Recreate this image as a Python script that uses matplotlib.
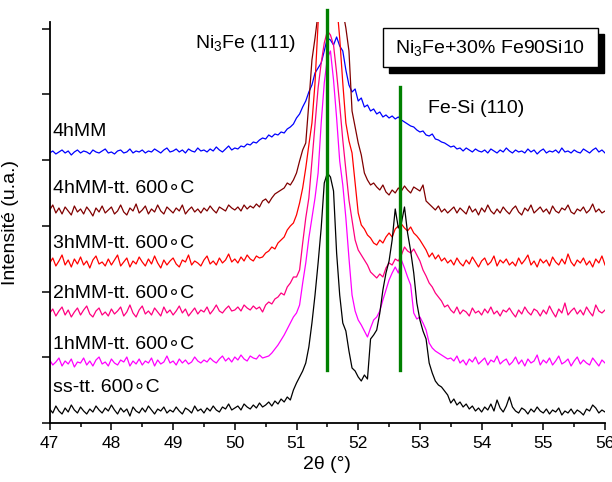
import matplotlib
matplotlib.use("Agg")
import matplotlib.pyplot as plt
import numpy as np
from matplotlib.patches import Rectangle
from matplotlib.ticker import MultipleLocator

# scan grid, 47-56 deg in 0.05 deg steps
two_theta = np.linspace(47, 56, 181)

# intensities (a.u., curves already stacked)
i_4hmm = [
    270, 272, 269, 271, 273, 270, 272, 268, 271, 273,
    270, 272, 271, 269, 273, 271, 270, 272, 274, 270,
    271, 269, 272, 273, 270, 271, 274, 270, 272, 271,
    273, 270, 272, 271, 274, 272, 270, 273, 275, 271,
    272, 274, 271, 273, 270, 274, 272, 271, 275, 272,
    273, 271, 274, 272, 276, 273, 271, 274, 277, 273,
    275, 274, 277, 276, 279, 278, 281, 280, 283, 285,
    284, 288, 286, 289, 288, 291, 290, 294, 296, 299,
    305, 309, 316, 322, 331, 338, 350, 355, 360, 372,
    385, 383, 378, 386, 377, 372, 353, 338, 331, 334,
    322, 325, 316, 318, 312, 314, 309, 311, 306, 308,
    305, 307, 304, 306, 303, 301, 299, 297, 296, 293,
    291, 292, 288, 287, 289, 284, 283, 281, 280, 278,
    276, 277, 274, 275, 272, 275, 273, 271, 274, 272,
    271, 273, 270, 274, 272, 270, 273, 271, 275, 272,
    270, 273, 271, 272, 270, 274, 271, 273, 269, 272,
    274, 270, 272, 271, 273, 270, 275, 271, 272, 270,
    273, 271, 270, 274, 272, 270, 273, 275, 271, 273,
    270,
]
i_4hmm_tt = [
    213, 218, 210, 215, 209, 216, 212, 208, 217, 211,
    214, 209, 216, 212, 207, 215, 211, 217, 210, 213,
    216, 209, 212, 218, 211, 208, 215, 212, 219, 210,
    213, 217, 209, 214, 211, 218, 212, 209, 216, 213,
    210, 215, 212, 218, 209, 213, 216, 211, 214, 210,
    215, 212, 217, 213, 210, 216, 214, 212, 218, 215,
    213, 216, 212, 218, 214, 217, 215, 219, 216, 222,
    224, 220, 225, 229, 231, 233, 235, 240, 238, 243,
    250, 262, 273, 280, 320, 363, 385, 410, 440, 455,
    462, 465, 458, 448, 432, 412, 395, 372, 312, 296,
    280, 268, 250, 243, 238, 240, 236, 233, 238, 231,
    228, 233, 230, 235, 232, 237, 233, 230, 236, 234,
    232, 238, 222, 219, 216, 213, 217, 211, 214, 210,
    213, 216, 210, 215, 212, 209, 217, 211, 214, 208,
    215, 211, 218, 212, 209, 214, 210, 216, 212, 209,
    214, 217, 211, 208, 215, 212, 218, 210, 213, 216,
    211, 214, 209, 217, 212, 210, 215, 213, 218, 211,
    209, 214, 212, 216, 210, 213, 219, 211, 214, 210,
    212,
]
i_3hmm_tt = [
    160, 165, 157, 162, 168, 158, 163, 156, 164, 159,
    166, 158, 162, 155, 163, 167, 159, 161, 157, 164,
    158, 163, 168, 157, 161, 165, 156, 162, 159, 166,
    161, 157, 164, 159, 167, 160, 155, 163, 158, 162,
    165, 159, 156, 163, 161, 168, 158, 162, 160, 157,
    163, 167, 159, 162, 158, 165, 160, 163, 169, 161,
    164, 160, 166, 162, 168, 164, 162, 167, 165, 166,
    170, 172, 176, 174, 180, 183, 186, 193, 197, 200,
    208, 220, 235, 255, 278, 300, 340, 400, 430, 455,
    470, 478, 472, 420, 385, 340, 300, 282, 270, 240,
    210, 198, 194, 188, 185, 180, 178, 183, 180, 186,
    190, 186, 194, 197, 199, 195, 192, 196, 190, 187,
    183, 178, 173, 166, 170, 164, 168, 162, 165, 160,
    163, 158, 165, 160, 157, 163, 159, 166, 161, 156,
    162, 165, 158, 161, 167, 157, 163, 160, 164, 158,
    161, 157, 165, 159, 163, 168, 158, 162, 156, 164,
    160, 163, 157, 166, 161, 158, 164, 159, 169, 161,
    157, 163, 160, 165, 158, 162, 156, 164, 160, 167,
    158,
]
i_2hmm_tt = [
    110, 114, 107, 112, 116, 108, 113, 106, 111, 115,
    108, 113, 117, 109, 106, 112, 115, 108, 111, 107,
    114, 109, 112, 116, 107, 111, 118, 110, 106, 113,
    117, 109, 112, 108, 115, 111, 107, 116, 110, 113,
    108, 112, 117, 110, 114, 107, 111, 115, 109, 113,
    111, 116, 109, 113, 118, 112, 110, 114, 117, 112,
    113, 116, 112, 118, 115, 113, 117, 114, 116, 111,
    118, 121, 119, 124, 126, 130, 128, 136, 140, 146,
    146, 153, 180, 205, 225, 262, 300, 335, 360, 380,
    392, 388, 378, 350, 318, 283, 253, 223, 203, 183,
    173, 168, 163, 158, 151, 148, 145, 149, 146, 155,
    160, 158, 164, 162, 168, 176, 172, 170, 174, 168,
    162, 153, 147, 140, 136, 130, 126, 122, 116, 118,
    113, 110, 116, 109, 113, 111, 107, 115, 110, 112,
    108, 114, 110, 116, 109, 112, 107, 113, 111, 115,
    110, 106, 113, 109, 116, 111, 108, 114, 112, 107,
    113, 109, 117, 111, 106, 114, 110, 120, 108, 112,
    115, 109, 113, 108, 116, 111, 107, 118, 112, 110,
    113,
]
i_1hmm_tt = [
    63, 58, 61, 65, 57, 62, 59, 64, 56, 61,
    60, 65, 58, 62, 57, 63, 66, 59, 61, 57,
    64, 60, 58, 63, 61, 66, 57, 62, 59, 64,
    58, 62, 60, 65, 57, 63, 59, 61, 67, 60,
    62, 58, 64, 60, 63, 59, 61, 66, 62, 60,
    63, 61, 65, 62, 60, 64, 67, 62, 65, 61,
    66, 63, 68, 64, 62, 67, 65, 64, 68, 65,
    66, 67, 70, 74, 78, 83, 88, 94, 100, 106,
    110, 118, 140, 160, 185, 205, 225, 250, 300, 340,
    365, 372, 343, 305, 262, 238, 205, 165, 128, 112,
    103, 98, 92, 86, 95, 103, 106, 112, 123, 133,
    143, 150, 156, 150, 163, 155, 146, 138, 110, 104,
    106, 100, 93, 80, 75, 72, 70, 68, 66, 64,
    65, 62, 67, 60, 63, 58, 64, 61, 66, 59,
    62, 65, 58, 63, 61, 67, 59, 62, 64, 58,
    61, 66, 59, 63, 57, 64, 60, 62, 68, 58,
    63, 60, 65, 58, 62, 67, 59, 61, 64, 57,
    62, 66, 59, 63, 60, 58, 65, 61, 57, 63,
    60,
]
i_ss_tt = [
    14, 10, 17, 12, 9, 15, 11, 18, 13, 10,
    16, 12, 9, 14, 11, 17, 13, 10, 15, 12,
    18, 13, 9, 15, 11, 14, 7, 16, 12, 10,
    15, 11, 17, 13, 9, 14, 12, 16, 10, 13,
    11, 16, 12, 9, 15, 13, 10, 17, 12, 14,
    10, 15, 12, 17, 13, 11, 16, 14, 19, 13,
    15, 17, 13, 19, 16, 14, 18, 15, 20, 16,
    18, 21, 17, 22, 19, 24, 21, 26, 23, 33,
    40, 46, 52, 60, 76, 100, 128, 160, 195, 240,
    250, 246, 232, 170, 128, 100, 92, 72, 55, 52,
    46, 42, 48, 44, 84, 88, 93, 110, 133, 150,
    162, 183, 214, 195, 200, 216, 190, 172, 150, 120,
    103, 92, 84, 60, 50, 42, 38, 36, 32, 28,
    20, 24, 18, 21, 16, 19, 14, 17, 12, 15,
    11, 16, 13, 19, 12, 23, 15, 11, 17, 26,
    16, 12, 10, 15, 13, 9, 14, 11, 16, 12,
    10, 14, 9, 13, 11, 15, 8, 12, 10, 14,
    9, 13, 11, 8, 14, 12, 18, 15, 10, 13,
    11,
]

series = [
    (i_4hmm, "#0000FF", "4hMM", 287),
    (i_4hmm_tt, "#800000", "4hMM-tt. 600\u2218C", 230),
    (i_3hmm_tt, "#FF0000", "3hMM-tt. 600\u2218C", 175),
    (i_2hmm_tt, "#FF0080", "2hMM-tt. 600\u2218C", 125),
    (i_1hmm_tt, "#FF00FF", "1hMM-tt. 600\u2218C", 74),
    (i_ss_tt, "#000000", "ss-tt. 600\u2218C", 31),
]

# reference peak positions (deg) and marker heights
ni3fe_pos, ni3fe_top = 51.5, 413
fesi_pos, fesi_top = 52.68, 336
marker_bottom = 53

plt.rcParams["font.family"] = ["Liberation Sans", "DejaVu Sans"]
plt.rcParams["mathtext.default"] = "regular"

fig = plt.figure(figsize=(6.12, 4.82), dpi=100)
ax = fig.add_axes([0.0812, 0.1224, 0.9074, 0.832])

for values, color, label, label_y in series:
    ax.plot(two_theta, values, color=color, lw=0.9)
    ax.text(47.05, label_y, label, fontsize=14, va="baseline", ha="left")

ax.plot([ni3fe_pos, ni3fe_pos], [marker_bottom, ni3fe_top], color="#008000",
        lw=2.4, clip_on=False, zorder=5)
ax.plot([fesi_pos, fesi_pos], [marker_bottom, fesi_top], color="#008000",
        lw=2.4, clip_on=False, zorder=5)

ax.text(49.36, 375, "Ni$_3$Fe (111)", fontsize=14, va="baseline")
ax.text(53.13, 310, "Fe-Si (110)", fontsize=14, va="baseline")

ax.set_xlim(47, 56)
ax.set_ylim(0, 401)
ax.xaxis.set_major_locator(MultipleLocator(1))
ax.xaxis.set_minor_locator(MultipleLocator(0.5))
ax.yaxis.set_major_locator(MultipleLocator(65.7))
ax.set_yticklabels([])
ax.tick_params(axis="x", which="major", direction="out", length=5, width=1.1,
               labelsize=12.5, pad=4)
ax.tick_params(axis="x", which="minor", direction="out", length=3, width=1.1)
ax.tick_params(axis="y", direction="out", length=6, width=1.1)
for side in ["top", "right"]:
    ax.spines[side].set_visible(False)
for side in ["left", "bottom"]:
    ax.spines[side].set_linewidth(1.3)

ax.set_xlabel("2\u03b8 (\u00b0)", fontsize=14)
ax.xaxis.set_label_coords(0.5, -0.083)
ax.set_ylabel("Intensit\u00e9 (u.a.)", fontsize=14)
ax.yaxis.set_label_coords(-0.055, 0.5)

# boxed title with drop shadow
box_x, box_y, box_w, box_h = 383 / 612, (482 - 67) / 482, 215 / 612, 39 / 482
fig.add_artist(Rectangle((box_x + 6 / 612, box_y - 6 / 482), box_w, box_h,
                         transform=fig.transFigure, facecolor="black",
                         edgecolor="black"))
fig.add_artist(Rectangle((box_x, box_y), box_w, box_h, transform=fig.transFigure,
                         facecolor="white", edgecolor="black", lw=1))
fig.text(box_x + box_w / 2, box_y + box_h / 2, "Ni$_3$Fe+30% Fe90Si10",
         fontsize=14, ha="center", va="center")

fig.savefig("out.png", dpi=100)
